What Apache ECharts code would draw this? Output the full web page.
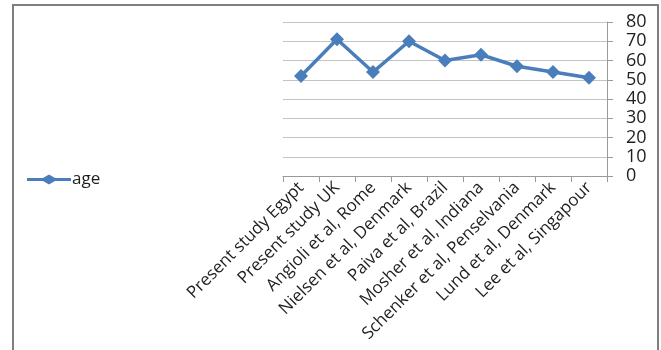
<!DOCTYPE html>
<html>
<head>
<meta charset="utf-8">
<script src="https://cdn.jsdelivr.net/npm/echarts@6/dist/echarts.min.js"></script>
<style>
  html, body { margin: 0; padding: 0; background: #fff; }
  #chart { width: 661px; height: 350px; }
</style>
</head>
<body>
<div id="chart"></div>
<script>
// Mean age reported by each study
const studies = [
  'Present study Egypt',
  'Present study UK',
  'Angioli et al, Rome',
  'Nielsen et al, Denmark',
  'Paiva et al, Brazil',
  'Mosher et al, Indiana',
  'Schenker et al, Penselvania',
  'Lund et al, Denmark',
  'Lee et al, Singapour'
];
const age = [52, 71, 54, 70, 60, 63, 57, 54, 51];
const seriesName = 'age';

const FONT = 'Open Sans';
const TEXT = '#1f1f1f';
const BLUE = '#4A7EBB';

// legend key: thick line with a diamond marker in the middle
const LEGEND_ICON = 'path://M0,3.6H16L22,0L28,3.6H44V6.4H28L22,10L16,6.4H0Z';

const chart = echarts.init(document.getElementById('chart'), null, { renderer: 'canvas' });

chart.setOption({
  animation: false,
  backgroundColor: '#ffffff',
  grid: { left: 283, right: 54, top: 22, bottom: 174, containLabel: false },
  legend: {
    data: [{ name: seriesName, icon: LEGEND_ICON }],
    orient: 'vertical',
    left: 22,
    top: 166,
    itemWidth: 44,
    itemHeight: 10,
    itemGap: 4,
    itemStyle: { color: BLUE },
    textStyle: { fontFamily: FONT, fontSize: 17, color: TEXT, padding: [0, 0, 0, -4] }
  },
  xAxis: {
    type: 'category',
    data: studies,
    boundaryGap: true,
    axisLine: { lineStyle: { color: '#9a9a9a', width: 1 } },
    axisTick: { show: true, alignWithLabel: false, length: 6, lineStyle: { color: '#9a9a9a' } },
    axisLabel: {
      interval: 0,
      rotate: 45,
      margin: 9,
      fontFamily: FONT,
      fontSize: 17,
      color: TEXT
    },
    splitLine: { show: false }
  },
  yAxis: {
    type: 'value',
    position: 'right',
    min: 0,
    max: 80,
    interval: 10,
    axisLine: { show: true, lineStyle: { color: '#9a9a9a', width: 1 } },
    axisTick: { show: true, length: 6, lineStyle: { color: '#9a9a9a' } },
    axisLabel: {
      margin: 19,
      align: 'left',
      fontFamily: FONT,
      fontSize: 18,
      color: TEXT
    },
    splitLine: { show: true, lineStyle: { color: '#c4c4c4', width: 1 } }
  },
  series: [{
    name: seriesName,
    type: 'line',
    data: age,
    symbol: 'diamond',
    symbolSize: 14,
    lineStyle: { color: BLUE, width: 3.5 },
    itemStyle: { color: BLUE },
    emphasis: { disabled: true }
  }],
  graphic: [{
    type: 'polyline',
    silent: true,
    shape: { points: [[13, 350], [13, 5], [658, 5], [658, 350]] },
    style: { stroke: '#7f7f7f', lineWidth: 2, fill: null }
  }]
});
</script>
</body>
</html>
